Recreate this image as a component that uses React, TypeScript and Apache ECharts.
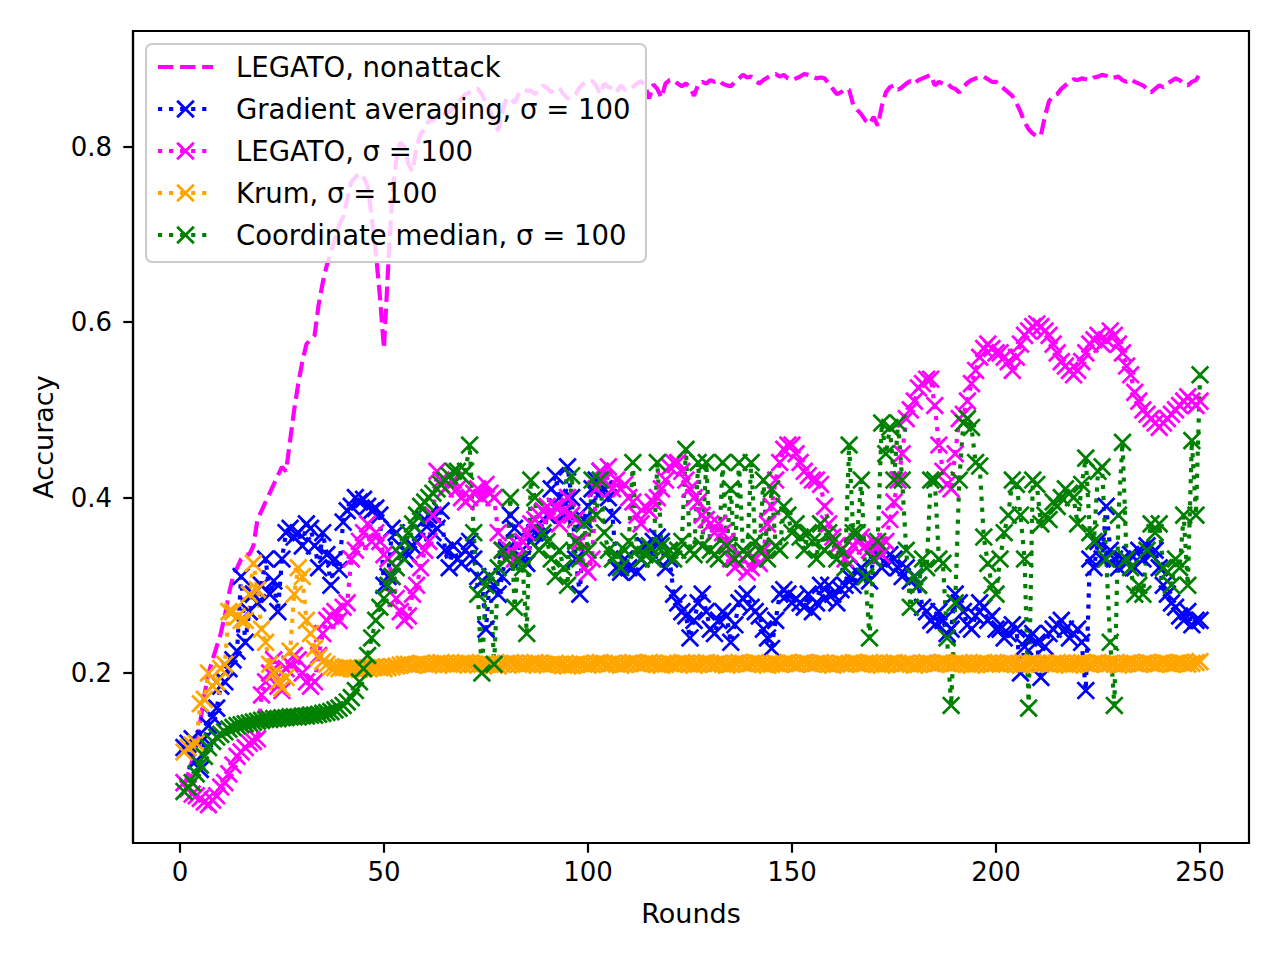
import React, { useEffect, useRef } from "react";
import * as echarts from "echarts";

// ---------- data (rounds 1..250) ----------
const nonattack = [
  0.07, 0.085, 0.1, 0.12, 0.145, 0.175, 0.2, 0.215, 0.23, 0.245,
  0.265, 0.29, 0.31, 0.32, 0.33, 0.335, 0.335, 0.345, 0.375, 0.385,
  0.395, 0.405, 0.415, 0.425, 0.435, 0.43, 0.465, 0.5, 0.53, 0.555,
  0.575, 0.58, 0.585, 0.62, 0.645, 0.665, 0.68, 0.695, 0.71, 0.72,
  0.74, 0.76, 0.765, 0.77, 0.765, 0.755, 0.72, 0.68, 0.63, 0.57,
  0.66, 0.74, 0.785, 0.805, 0.8, 0.78, 0.772, 0.8, 0.815, 0.82,
  0.83, 0.83, 0.835, 0.84, 0.837, 0.84, 0.845, 0.85, 0.855, 0.86,
  0.862, 0.866, 0.866, 0.86, 0.85, 0.84, 0.83, 0.818, 0.84, 0.855,
  0.856, 0.85, 0.86, 0.865, 0.864, 0.864, 0.86, 0.865, 0.87, 0.867,
  0.862, 0.866, 0.867, 0.86, 0.855, 0.856, 0.86, 0.868, 0.872, 0.875,
  0.875, 0.87, 0.86, 0.872, 0.868, 0.867, 0.862, 0.87, 0.865, 0.864,
  0.868, 0.872, 0.875, 0.87, 0.855, 0.871, 0.866, 0.856, 0.872, 0.876,
  0.876, 0.872, 0.869, 0.872, 0.868, 0.858, 0.871, 0.874, 0.872, 0.876,
  0.874, 0.876, 0.872, 0.87, 0.869, 0.874, 0.878, 0.882, 0.879, 0.88,
  0.876, 0.872, 0.876, 0.879, 0.882, 0.883, 0.88, 0.882, 0.878, 0.876,
  0.878, 0.88, 0.883, 0.882, 0.88, 0.878, 0.879, 0.878, 0.872, 0.866,
  0.86, 0.862, 0.866, 0.865, 0.848, 0.842, 0.837, 0.83, 0.826, 0.834,
  0.824, 0.846, 0.862, 0.868, 0.87, 0.865, 0.868, 0.872, 0.875, 0.872,
  0.876, 0.878, 0.88, 0.882, 0.87, 0.874, 0.872, 0.873, 0.868, 0.866,
  0.862, 0.868, 0.873, 0.876, 0.878, 0.879, 0.88, 0.877, 0.874, 0.874,
  0.87, 0.866, 0.862, 0.858, 0.85, 0.84, 0.828, 0.82, 0.815, 0.812,
  0.813, 0.835, 0.852, 0.858, 0.86, 0.866, 0.87, 0.874, 0.877, 0.876,
  0.878, 0.877, 0.876, 0.879, 0.88, 0.882, 0.881, 0.878, 0.879, 0.88,
  0.876, 0.874, 0.877, 0.874, 0.872, 0.87, 0.866, 0.862, 0.866, 0.87,
  0.868, 0.872, 0.875, 0.878, 0.876, 0.872, 0.87, 0.874, 0.876, 0.884,
];

const gradientAveraging = [
  0.115, 0.12, 0.125, 0.1, 0.09, 0.125, 0.14, 0.15, 0.16, 0.185,
  0.19, 0.205, 0.215, 0.225, 0.31, 0.235, 0.27, 0.29, 0.28, 0.3,
  0.33, 0.29, 0.305, 0.27, 0.33, 0.36, 0.365, 0.355, 0.36, 0.345,
  0.37, 0.365, 0.345, 0.32, 0.36, 0.335, 0.3, 0.33, 0.318, 0.372,
  0.385, 0.39, 0.4, 0.395, 0.398, 0.39, 0.385, 0.388, 0.38, 0.3,
  0.31, 0.365, 0.36, 0.345, 0.33, 0.335, 0.345, 0.35, 0.36, 0.375,
  0.38, 0.36, 0.365, 0.385, 0.34, 0.32, 0.345, 0.33, 0.325, 0.34,
  0.35, 0.33, 0.31, 0.305, 0.25, 0.31, 0.3, 0.29, 0.31, 0.34,
  0.38, 0.365, 0.345, 0.33, 0.325, 0.35, 0.36, 0.37, 0.355, 0.38,
  0.41, 0.425, 0.4, 0.38, 0.435, 0.4, 0.33, 0.29, 0.375, 0.39,
  0.41, 0.42, 0.43, 0.41, 0.4, 0.38, 0.32, 0.315, 0.33, 0.32,
  0.32, 0.315, 0.33, 0.345, 0.34, 0.35, 0.355, 0.35, 0.32, 0.33,
  0.29, 0.28, 0.27, 0.265, 0.24, 0.26, 0.28, 0.29, 0.27, 0.25,
  0.245, 0.26, 0.27, 0.265, 0.235, 0.255, 0.28, 0.285, 0.29, 0.275,
  0.27, 0.265, 0.25, 0.24, 0.228, 0.26, 0.29, 0.295, 0.29, 0.28,
  0.285, 0.28, 0.275, 0.29, 0.27, 0.28, 0.3, 0.285, 0.3, 0.29,
  0.28, 0.295, 0.3, 0.31, 0.3, 0.315, 0.32, 0.31, 0.305, 0.33,
  0.34, 0.32, 0.325, 0.335, 0.33, 0.32, 0.31, 0.32, 0.305, 0.31,
  0.3, 0.275, 0.27, 0.26, 0.255, 0.27, 0.26, 0.245, 0.25, 0.29,
  0.28, 0.27, 0.255, 0.25, 0.265, 0.28, 0.275, 0.26, 0.265, 0.25,
  0.25, 0.24, 0.245, 0.255, 0.25, 0.2, 0.23, 0.24, 0.245, 0.235,
  0.195, 0.23, 0.245, 0.25, 0.255, 0.26, 0.25, 0.24, 0.245, 0.25,
  0.235, 0.18, 0.33, 0.32, 0.35, 0.33, 0.39, 0.34, 0.33, 0.32,
  0.33, 0.325, 0.335, 0.32, 0.34, 0.33, 0.345, 0.335, 0.34, 0.32,
  0.3, 0.29, 0.28, 0.275, 0.265, 0.26, 0.27, 0.255, 0.26, 0.26,
];

const legatoSigma = [
  0.075, 0.068, 0.062, 0.06, 0.057, 0.053, 0.05, 0.055, 0.06, 0.07,
  0.075, 0.085, 0.095, 0.105, 0.11, 0.115, 0.12, 0.122, 0.125, 0.175,
  0.19, 0.2, 0.215, 0.185, 0.18, 0.205, 0.21, 0.22, 0.215, 0.2,
  0.19, 0.185, 0.19, 0.22, 0.245, 0.26, 0.265, 0.27, 0.26, 0.275,
  0.28, 0.33, 0.34, 0.35, 0.36, 0.37, 0.35, 0.36, 0.35, 0.335,
  0.33, 0.31, 0.285, 0.27, 0.26, 0.265, 0.29, 0.3, 0.32, 0.34,
  0.35, 0.38, 0.43, 0.42, 0.41, 0.415, 0.42, 0.41, 0.4, 0.395,
  0.4, 0.405, 0.41, 0.4, 0.415, 0.405, 0.4, 0.36, 0.34, 0.33,
  0.34, 0.33, 0.345, 0.35, 0.36, 0.37, 0.375, 0.38, 0.385, 0.39,
  0.38, 0.39, 0.37, 0.385, 0.4, 0.38, 0.375, 0.35, 0.32, 0.315,
  0.33, 0.41, 0.43, 0.42, 0.435, 0.41, 0.42, 0.41, 0.415, 0.4,
  0.395, 0.38, 0.37, 0.39, 0.385, 0.395, 0.4, 0.41, 0.42, 0.435,
  0.44, 0.44, 0.43, 0.42, 0.41, 0.4, 0.395, 0.38, 0.375, 0.37,
  0.36, 0.37, 0.36, 0.35, 0.33, 0.32, 0.325, 0.33, 0.315, 0.32,
  0.33, 0.325, 0.34, 0.37, 0.39, 0.42, 0.44, 0.455, 0.46, 0.46,
  0.45, 0.44, 0.43, 0.425, 0.42, 0.42, 0.415, 0.39, 0.37, 0.355,
  0.345, 0.34, 0.33, 0.335, 0.345, 0.35, 0.355, 0.345, 0.34, 0.35,
  0.345, 0.335, 0.35, 0.375, 0.395, 0.42, 0.45, 0.49, 0.5, 0.51,
  0.525, 0.53, 0.535, 0.535, 0.505, 0.46, 0.43, 0.415, 0.41, 0.45,
  0.49, 0.495, 0.51, 0.53, 0.545, 0.56, 0.57, 0.575, 0.57, 0.565,
  0.565, 0.56, 0.555, 0.545, 0.56, 0.575, 0.585, 0.59, 0.595, 0.598,
  0.595, 0.59, 0.585, 0.575, 0.565, 0.555, 0.55, 0.545, 0.54, 0.545,
  0.555, 0.565, 0.575, 0.58, 0.585, 0.575, 0.58, 0.59, 0.585, 0.575,
  0.565, 0.55, 0.54, 0.52, 0.51, 0.5, 0.495, 0.49, 0.485, 0.48,
  0.485, 0.49, 0.495, 0.5, 0.505, 0.51, 0.515, 0.51, 0.505, 0.51,
];

const krum = [
  0.11, 0.115, 0.118, 0.12, 0.165, 0.17, 0.2, 0.185, 0.19, 0.205,
  0.21, 0.27, 0.27, 0.264, 0.26, 0.26, 0.29, 0.325, 0.295, 0.25,
  0.235, 0.21, 0.2, 0.19, 0.183, 0.195, 0.225, 0.29, 0.32, 0.31,
  0.26, 0.245, 0.228, 0.218, 0.213, 0.21, 0.207, 0.206, 0.205, 0.206,
  0.206, 0.205, 0.205, 0.204, 0.205, 0.206, 0.207, 0.207, 0.206, 0.205,
  0.206, 0.207, 0.208, 0.209, 0.21, 0.21, 0.209, 0.21, 0.211, 0.21,
  0.209, 0.21, 0.211, 0.212, 0.211, 0.21, 0.209, 0.21, 0.211, 0.212,
  0.211, 0.21, 0.209, 0.21, 0.211, 0.21, 0.209, 0.208, 0.21, 0.211,
  0.212, 0.211, 0.21, 0.209, 0.21, 0.211, 0.212, 0.211, 0.21, 0.209,
  0.21, 0.211, 0.21, 0.209, 0.208, 0.209, 0.21, 0.211, 0.21, 0.209,
  0.21, 0.211, 0.212, 0.211, 0.21, 0.211, 0.21, 0.209, 0.21, 0.211,
  0.212, 0.211, 0.21, 0.211, 0.212, 0.211, 0.21, 0.209, 0.21, 0.211,
  0.21, 0.211, 0.212, 0.211, 0.21, 0.209, 0.21, 0.211, 0.212, 0.211,
  0.21, 0.211, 0.21, 0.209, 0.21, 0.211, 0.212, 0.211, 0.21, 0.211,
  0.212, 0.211, 0.21, 0.209, 0.21, 0.211, 0.21, 0.211, 0.212, 0.211,
  0.21, 0.211, 0.212, 0.211, 0.21, 0.211, 0.212, 0.211, 0.21, 0.209,
  0.21, 0.211, 0.21, 0.211, 0.212, 0.211, 0.21, 0.211, 0.212, 0.211,
  0.21, 0.209, 0.21, 0.211, 0.212, 0.211, 0.21, 0.211, 0.21, 0.209,
  0.21, 0.211, 0.212, 0.211, 0.21, 0.211, 0.212, 0.211, 0.21, 0.211,
  0.212, 0.211, 0.21, 0.209, 0.21, 0.211, 0.212, 0.211, 0.21, 0.211,
  0.21, 0.211, 0.212, 0.211, 0.21, 0.209, 0.21, 0.211, 0.212, 0.211,
  0.21, 0.211, 0.21, 0.211, 0.212, 0.211, 0.21, 0.209, 0.21, 0.211,
  0.212, 0.211, 0.21, 0.211, 0.212, 0.211, 0.21, 0.211, 0.21, 0.209,
  0.21, 0.211, 0.212, 0.211, 0.21, 0.211, 0.212, 0.211, 0.21, 0.211,
  0.212, 0.211, 0.21, 0.211, 0.212, 0.211, 0.21, 0.211, 0.212, 0.213,
];

const coordinateMedian = [
  0.065, 0.07, 0.075, 0.085, 0.095, 0.105, 0.115, 0.122, 0.127, 0.13,
  0.133, 0.136, 0.138, 0.14, 0.141, 0.142, 0.143, 0.144, 0.145, 0.146,
  0.147, 0.147, 0.148, 0.148, 0.149, 0.149, 0.15, 0.15, 0.15, 0.151,
  0.151, 0.152, 0.152, 0.153, 0.154, 0.155, 0.156, 0.158, 0.16, 0.163,
  0.167, 0.172, 0.18, 0.19, 0.205, 0.22, 0.24, 0.26, 0.275, 0.285,
  0.3, 0.31, 0.32, 0.335, 0.35, 0.36, 0.37, 0.38, 0.39, 0.395,
  0.4, 0.405, 0.41, 0.415, 0.42, 0.425, 0.43, 0.43, 0.425, 0.43,
  0.46, 0.36, 0.29, 0.2, 0.3, 0.31, 0.21, 0.32, 0.34, 0.33,
  0.4, 0.275, 0.33, 0.32, 0.245, 0.42, 0.4, 0.34, 0.36, 0.35,
  0.33, 0.31, 0.34, 0.32, 0.3, 0.425, 0.35, 0.33, 0.37, 0.34,
  0.42, 0.38, 0.42, 0.36, 0.34, 0.33, 0.335, 0.32, 0.34, 0.35,
  0.44, 0.34, 0.33, 0.335, 0.345, 0.33, 0.44, 0.345, 0.335, 0.34,
  0.33, 0.34, 0.35, 0.455, 0.34, 0.335, 0.44, 0.345, 0.44, 0.34,
  0.335, 0.33, 0.44, 0.345, 0.41, 0.33, 0.44, 0.34, 0.335, 0.44,
  0.35, 0.34, 0.42, 0.33, 0.41, 0.345, 0.34, 0.39, 0.38, 0.36,
  0.37, 0.355, 0.34, 0.36, 0.35, 0.33, 0.37, 0.34, 0.36, 0.35,
  0.33, 0.34, 0.32, 0.46, 0.36, 0.36, 0.42, 0.31, 0.24, 0.33,
  0.35, 0.485, 0.45, 0.48, 0.42, 0.485, 0.42, 0.34, 0.275, 0.31,
  0.3, 0.33, 0.32, 0.42, 0.42, 0.33, 0.325, 0.24, 0.163, 0.28,
  0.42, 0.485, 0.49, 0.48, 0.44, 0.436, 0.355, 0.325, 0.3, 0.29,
  0.33, 0.36, 0.38, 0.42, 0.415, 0.38, 0.33, 0.16, 0.42, 0.415,
  0.37, 0.38, 0.375, 0.395, 0.39, 0.4, 0.41, 0.405, 0.4, 0.37,
  0.415, 0.445, 0.36, 0.35, 0.43, 0.435, 0.33, 0.235, 0.163, 0.38,
  0.463, 0.33, 0.32, 0.29, 0.3, 0.29, 0.34, 0.37, 0.36, 0.37,
  0.32, 0.315, 0.3, 0.33, 0.32, 0.38, 0.3, 0.465, 0.38, 0.54,
];

const xTicks = [0, 50, 100, 150, 200, 250];
const yTicks = [0.2, 0.4, 0.6, 0.8];

const seriesNames = [
  "LEGATO, nonattack",
  "Gradient averaging, σ = 100",
  "LEGATO, σ = 100",
  "Krum, σ = 100",
  "Coordinate median, σ = 100",
];
const seriesColors = ["#ff00ff", "#0000ff", "#ff00ff", "#ffa500", "#008000"];

// ---------- styling ----------
const FONT = "DejaVu Sans";
const LW = 4.17; // 1.5pt @200dpi
const DOTTED = [4.17, 6.88];
const DASHED = [15.4, 6.67];
const CROSS =
  "path://M0,19.5 L19.5,0 L186,166.5 L166.5,186 Z M19.5,186 L0,166.5 L166.5,0 L186,19.5 Z";
const MS = 18.6;
const LEGEND_Z = 1000;

const toPoints = (vals: number[]) => vals.map((v, i) => [i + 1, v]);

function legendElements() {
  const els: any[] = [];
  els.push({
    type: "rect",
    z: LEGEND_Z,
    shape: { x: 146, y: 44, width: 500, height: 218, r: 6 },
    style: { fill: "rgba(255,255,255,0.8)", stroke: "#cccccc", lineWidth: 2 },
  });
  seriesNames.forEach((name, i) => {
    const y = 67 + 42 * i;
    const color = seriesColors[i];
    els.push({
      type: "line",
      z: LEGEND_Z + 1,
      shape: { x1: 158, y1: y, x2: 213, y2: y },
      style: {
        stroke: color,
        lineWidth: LW,
        lineDash: i === 0 ? DASHED : DOTTED,
        lineCap: "butt",
      },
    });
    if (i > 0) {
      const cx = 185.5;
      const h = 8.33;
      els.push({
        type: "line",
        z: LEGEND_Z + 2,
        shape: { x1: cx - h, y1: y - h, x2: cx + h, y2: y + h },
        style: { stroke: color, lineWidth: 2.78 },
      });
      els.push({
        type: "line",
        z: LEGEND_Z + 2,
        shape: { x1: cx - h, y1: y + h, x2: cx + h, y2: y - h },
        style: { stroke: color, lineWidth: 2.78 },
      });
    }
    els.push({
      type: "text",
      z: LEGEND_Z + 2,
      x: 236,
      y: y,
      style: {
        text: name,
        fill: "#000000",
        fontSize: 27.5,
        fontFamily: FONT,
        align: "left",
        verticalAlign: "middle",
      },
    });
  });
  return els;
}

export default function App() {
  const ref = useRef<HTMLDivElement>(null);

  useEffect(() => {
    if (!ref.current) return;
    const chart = echarts.init(ref.current, undefined, { renderer: "svg" });

    const markerSeries = (idx: number, data: number[]) => ({
      name: seriesNames[idx],
      type: "line",
      data: toPoints(data),
      symbol: CROSS,
      symbolSize: MS,
      showSymbol: true,
      itemStyle: { color: seriesColors[idx], borderWidth: 0 },
      lineStyle: { color: seriesColors[idx], width: LW, type: DOTTED, cap: "butt" },
      emphasis: { disabled: true },
      silent: true,
      z: 2,
    });

    chart.setOption({
      animation: false,
      backgroundColor: "#ffffff",
      textStyle: { fontFamily: FONT },
      grid: {
        left: 133,
        top: 31,
        width: 1116,
        height: 812,
        show: true,
        borderColor: "#000000",
        borderWidth: 2.2,
        backgroundColor: "transparent",
      },
      xAxis: {
        type: "value",
        min: -11.5,
        max: 262,
        name: "Rounds",
        nameLocation: "middle",
        nameGap: 57,
        nameTextStyle: { fontSize: 27, color: "#000", fontFamily: FONT },
        axisLine: { show: true, onZero: false, lineStyle: { color: "#000", width: 2.2 } },
        axisTick: {
          show: true,
          length: 9.7,
          customValues: xTicks,
          lineStyle: { color: "#000", width: 2.2 },
        },
        axisLabel: {
          customValues: xTicks,
          fontSize: 26,
          color: "#000",
          fontFamily: FONT,
          margin: 16,
          formatter: (v: number) => String(v),
        },
        splitLine: { show: false },
      },
      yAxis: {
        type: "value",
        min: 0.0062,
        max: 0.932,
        name: "Accuracy",
        nameLocation: "middle",
        nameGap: 76,
        nameTextStyle: { fontSize: 27, color: "#000", fontFamily: FONT },
        axisLine: { show: true, onZero: false, lineStyle: { color: "#000", width: 2.2 } },
        axisTick: {
          show: true,
          length: 9.7,
          customValues: yTicks,
          lineStyle: { color: "#000", width: 2.2 },
        },
        axisLabel: {
          customValues: yTicks,
          fontSize: 26,
          color: "#000",
          fontFamily: FONT,
          margin: 21,
          formatter: (v: number) => v.toFixed(1),
        },
        splitLine: { show: false },
      },
      series: [
        {
          name: seriesNames[0],
          type: "line",
          data: toPoints(nonattack),
          symbol: "none",
          showSymbol: false,
          lineStyle: { color: seriesColors[0], width: LW, type: DASHED, cap: "butt" },
          emphasis: { disabled: true },
          silent: true,
          z: 2,
        },
        markerSeries(1, gradientAveraging),
        markerSeries(2, legatoSigma),
        markerSeries(3, krum),
        markerSeries(4, coordinateMedian),
      ],
      graphic: { elements: legendElements() },
    });

    return () => chart.dispose();
  }, []);

  return (
    <div
      ref={ref}
      style={{ position: "fixed", left: 0, top: 0, width: 1280, height: 960, background: "#fff" }}
    />
  );
}
